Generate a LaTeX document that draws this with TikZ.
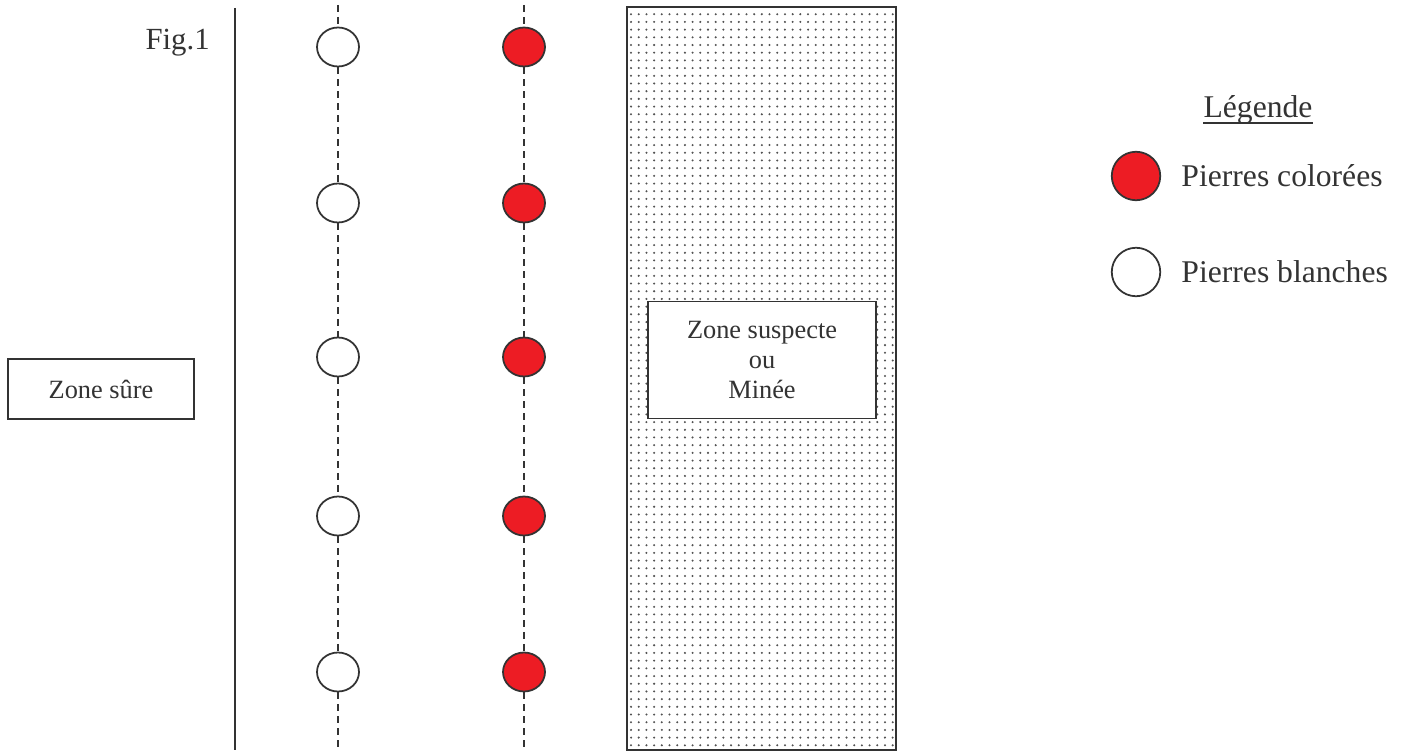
\documentclass[tikz,border=0pt]{standalone}
\usepackage{fontspec}
\setmainfont{Liberation Serif}
\usetikzlibrary{positioning}
\usetikzlibrary{shapes.geometric}
\usetikzlibrary{patterns.meta}

\definecolor{ink}{RGB}{51,51,51}
\definecolor{stonered}{RGB}{237,28,36}

\tikzdeclarepattern{
  name=minedots,
  type=colored,
  bottom left={(-2.19pt,-2.19pt)},
  top right={(2.19pt,2.19pt)},
  tile size={(4.38pt,4.38pt)},
  code={
    \fill[ink!85] (0,0) circle (0.65pt);
  }
}

\tikzset{
  stone/.style={ellipse, draw=ink, line width=1pt, fill=white, inner sep=0pt,
    minimum width=0.84cm, minimum height=0.78cm},
  redstone/.style={stone, fill=stonered},
  keystone/.style={circle, draw=ink, line width=1pt, fill=white, inner sep=0pt,
    minimum size=0.97cm},
  trace/.style={draw=ink, dash pattern=on 4pt off 2.8pt, line width=0.8pt},
  zonebox/.style={draw=ink, line width=1pt, fill=white, align=center,
    font=\fontsize{15}{17}\selectfont, text=ink},
  keytext/.style={inner sep=0pt, anchor=west, text=ink,
    font=\fontsize{18}{21}\selectfont}
}

\begin{document}
\begin{tikzpicture}[x=0.02cm, y=-0.02cm]

    \useasboundingbox (0,0) rectangle (1405,753);

    % Zones

    \node[draw=ink, line width=1pt, pattern=minedots, inner sep=0pt,
      minimum width=5.38cm, minimum height=14.86cm] (mined) at (761.5,378.5) {}; %
    \node[zonebox, minimum width=4.56cm, minimum height=2.34cm] (suspect) at (762,360)
      {Zone suspecte\\ou\\Minée}; %
    \node[zonebox, minimum width=3.72cm, minimum height=1.2cm] (safe) at (101,389)
      {Zone sûre}; %
    \node[anchor=base east, inner sep=0pt, text=ink, font=\fontsize{17.5}{20}\selectfont]
      (fig) at (210,50) {Fig.1};

    % Boundary
    \coordinate (btop) at (235,8);
    \coordinate (bbot) at (235,750);
    \draw[ink, line width=1pt] (btop) -- (bbot);

    % Stones
    \node[stone] (w1) at (338,47)  {}; %
    \node[stone] (w2) at (338,203) {}; %
    \node[stone] (w3) at (338,357) {}; %
    \node[stone] (w4) at (338,516) {}; %
    \node[stone] (w5) at (338,672) {}; %
    \node[redstone] (r1) at (524,47)  {}; %
    \node[redstone] (r2) at (524,203) {}; %
    \node[redstone] (r3) at (524,357) {}; %
    \node[redstone] (r4) at (524,516) {}; %
    \node[redstone] (r5) at (524,672) {}; %

    \coordinate (wtop) at (338,5);
    \coordinate (wbot) at (338,751);
    \coordinate (rtop) at (524,5);
    \coordinate (rbot) at (524,751);

    \draw[trace] (wtop) -- (w1) (w1) -- (w2) (w2) -- (w3) (w3) -- (w4) (w4) -- (w5) (w5) -- (wbot);
    \draw[trace] (rtop) -- (r1) (r1) -- (r2) (r2) -- (r3) (r3) -- (r4) (r4) -- (r5) (r5) -- (rbot);

    % Legend
    \node[anchor=base, inner sep=0pt, text=ink, font=\fontsize{18}{21}\selectfont]
      (legend) at (1258,118) {Légende};
    \draw[ink, line width=0.8pt] ([yshift=-2.8pt]legend.base west) -- ([yshift=-2.8pt]legend.base east);
    \node[keystone, fill=stonered] (kred) at (1136,176) {}; %
    \node[keystone] (kwhite) at (1136,272) {}; %
    \node[keytext, right=0.4cm of kred] (tred) {Pierres colorées};
    \node[keytext, right=0.4cm of kwhite] (twhite) {Pierres blanches};

\end{tikzpicture}
\end{document}
